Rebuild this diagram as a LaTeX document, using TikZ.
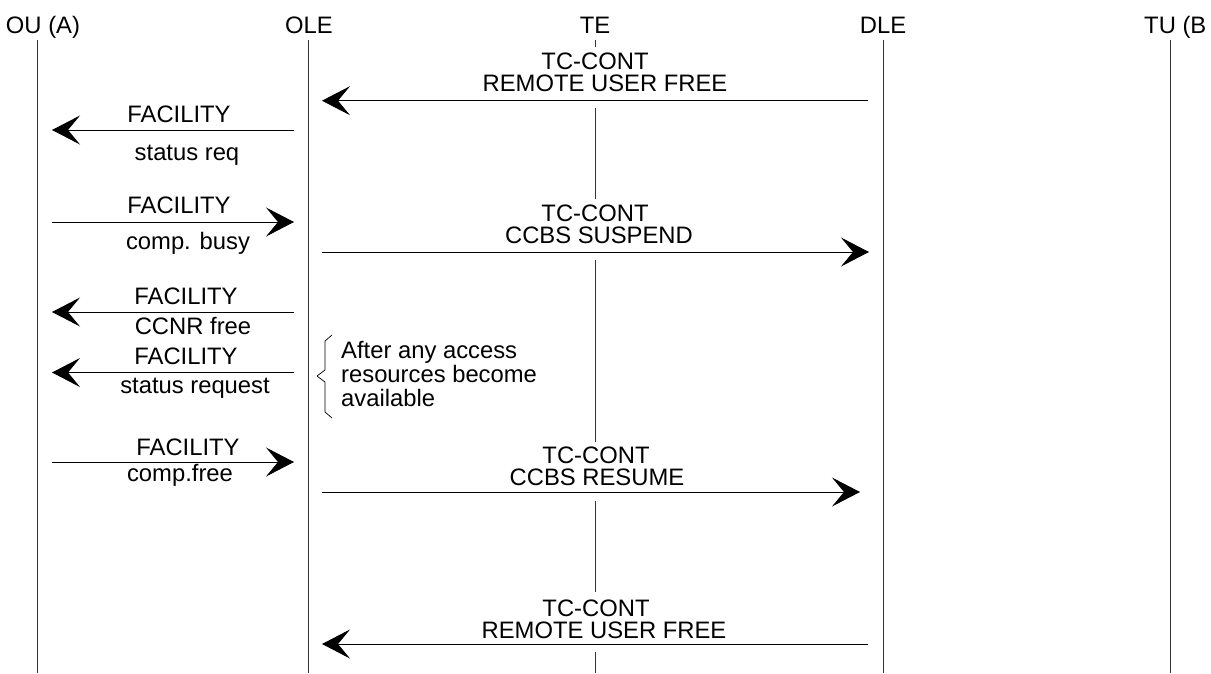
\documentclass[tikz,border=0pt]{standalone}
\usepackage{fontspec}
\setmainfont{Liberation Sans}
\usetikzlibrary{arrows.meta}
\begin{document}
\begin{tikzpicture}[x=1pt,y=-1pt,
  life/.style={line width=0.9pt, draw=black!80},
  msg/.style={line width=0.9pt, -{Stealth[length=28pt,width=29pt,inset=12pt]}},
  lbl/.style={anchor=base, inner sep=0pt, font=\fontsize{23.8}{25}\selectfont},
  note/.style={anchor=base west, inner sep=0pt, font=\fontsize{23.8}{25}\selectfont},
  bracepath/.style={line width=0.7pt, line join=round}]
\useasboundingbox (0,0) rectangle (1211,673);

% headers
\node[lbl] (hOU)  at (43,33)   {OU (A)};
\node[lbl] (hOLE) at (309,33)  {OLE};
\node[lbl] (hTE)  at (595,33)  {TE};
\node[lbl] (hDLE) at (883,33)  {DLE};
\node[note] (hTU) at (1144,33) {TU (B};

% lifelines
\coordinate (ouT) at (37,40);   \coordinate (ouB) at (37,673);
\coordinate (oleT) at (308,40); \coordinate (oleB) at (308,673);
\coordinate (dleT) at (883,40); \coordinate (dleB) at (883,673);
\coordinate (tuT) at (1170,40); \coordinate (tuB) at (1170,673);
\draw[life] (ouT) -- (ouB);
\draw[life] (oleT) -- (oleB);
\draw[life] (dleT) -- (dleB);
\draw[life] (tuT) -- (tuB);
% TE lifeline, interrupted by the TC-CONT messages
\coordinate (te0) at (595,40);  \coordinate (te1) at (595,47);
\coordinate (te2) at (595,108); \coordinate (te3) at (595,199);
\coordinate (te4) at (595,260); \coordinate (te5) at (595,442);
\coordinate (te6) at (595,501); \coordinate (te7) at (595,592);
\coordinate (te8) at (595,652); \coordinate (te9) at (595,673);
\draw[life] (te0) -- (te1) (te2) -- (te3) (te4) -- (te5) (te6) -- (te7) (te8) -- (te9);

% message 1: DLE -> OLE
\coordinate (m1s) at (868,100.7); \coordinate (m1e) at (322,100.7);
\draw[msg] (m1s) -- (m1e);
\node[lbl] (m1a) at (595,69) {TC-CONT};
\node[lbl] (m1b) at (605,91) {REMOTE USER FREE};

% message 2: OLE -> OU
\coordinate (m2s) at (294,130); \coordinate (m2e) at (52,130);
\draw[msg] (m2s) -- (m2e);
\node[lbl] (m2a) at (179,122) {FACILITY};
\node[lbl] (m2b) at (187,160) {status req};

% message 3: OU -> OLE
\coordinate (m3s) at (52,222); \coordinate (m3e) at (294,222);
\draw[msg] (m3s) -- (m3e);
\node[lbl] (m3a) at (179,213) {FACILITY};
\node[lbl] (m3b) at (188,249) {comp. busy};

% message 4: OLE -> DLE
\coordinate (m4s) at (322,252); \coordinate (m4e) at (869,252);
\draw[msg] (m4s) -- (m4e);
\node[lbl] (m4a) at (595,221) {TC-CONT};
\node[lbl] (m4b) at (599,243) {CCBS SUSPEND};

% message 5: OLE -> OU
\coordinate (m5s) at (294,312); \coordinate (m5e) at (52,312);
\draw[msg] (m5s) -- (m5e);
\node[lbl] (m5a) at (186,304) {FACILITY};
\node[lbl] (m5b) at (193,334) {CCNR free};

% message 6: OLE -> OU
\coordinate (m6s) at (294,372.5); \coordinate (m6e) at (52,372.5);
\draw[msg] (m6s) -- (m6e);
\node[lbl] (m6a) at (186,364) {FACILITY};
\node[lbl] (m6b) at (195,393) {status request};

% brace and note
\coordinate (br0) at (332,335); \coordinate (br1) at (325,341);
\coordinate (br2) at (325,370); \coordinate (br3) at (317,376);
\coordinate (br4) at (325,382); \coordinate (br5) at (325,412);
\coordinate (br6) at (332,418);
\draw[bracepath] (br0) -- (br1) -- (br2) -- (br3) -- (br4) -- (br5) -- (br6);
\node[note] (n1) at (341,358) {After any access};
\node[note] (n2) at (341,382) {resources become};
\node[note] (n3) at (341,406) {available};

% message 7: OU -> OLE
\coordinate (m7s) at (52,462); \coordinate (m7e) at (294,462);
\draw[msg] (m7s) -- (m7e);
\node[lbl] (m7a) at (188,455) {FACILITY};
\node[lbl] (m7b) at (180,481) {comp.free};

% message 8: OLE -> DLE
\coordinate (m8s) at (322,492); \coordinate (m8e) at (860,492);
\draw[msg] (m8s) -- (m8e);
\node[lbl] (m8a) at (596,463) {TC-CONT};
\node[lbl] (m8b) at (597,485) {CCBS RESUME};

% message 9: DLE -> OLE
\coordinate (m9s) at (868,644); \coordinate (m9e) at (322,644);
\draw[msg] (m9s) -- (m9e);
\node[lbl] (m9a) at (596,616) {TC-CONT};
\node[lbl] (m9b) at (604,638) {REMOTE USER FREE};
\end{tikzpicture}
\end{document}
